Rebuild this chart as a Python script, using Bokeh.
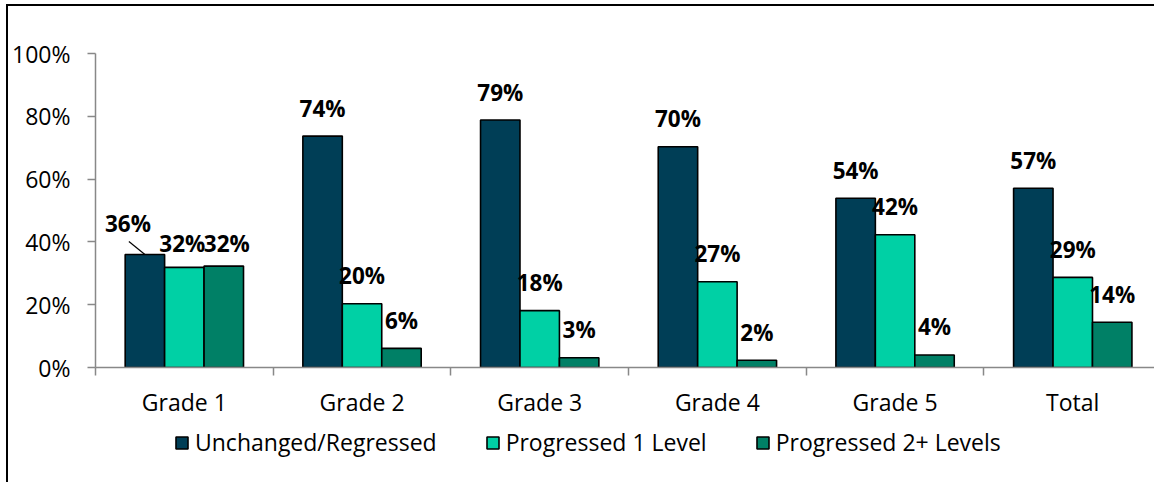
import numpy as np
from bokeh.plotting import figure
from bokeh.layouts import column
from bokeh.models import Range1d, FixedTicker, NumeralTickFormatter, Legend, LegendItem, ColumnDataSource
from bokeh.core.properties import value
from bokeh.embed import file_html
from bokeh.resources import INLINE

# ---- data ----
categories = ["Grade 1", "Grade 2", "Grade 3", "Grade 4", "Grade 5", "Total"]
series_names = ["Unchanged/Regressed", "Progressed 1 Level", "Progressed 2+ Levels"]
unchanged = [0.360, 0.737, 0.788, 0.703, 0.539, 0.571]
progressed_1 = [0.319, 0.203, 0.181, 0.273, 0.423, 0.287]
progressed_2 = [0.323, 0.061, 0.031, 0.023, 0.040, 0.144]
y_ticks = [0, 0.2, 0.4, 0.6, 0.8, 1.0]

colors = ["#003E56", "#00D0A5", "#008066"]
FONT = "Open Sans"
FS = "23px"
FS_LBL = "22.5px"

# ---- geometry ----
W, H = 1146, 420
MB_LEFT, MB_TOP, MB_BOTTOM = 87, 47, 59
X0, X1 = -0.5, 5.46
bar_w = 0.222
offsets = [-bar_w, 0.0, bar_w]

p = figure(width=W, height=H, output_backend="svg", toolbar_location=None,
           x_range=Range1d(X0, X1), y_range=Range1d(0, 1),
           min_border_left=MB_LEFT, min_border_top=MB_TOP,
           min_border_bottom=MB_BOTTOM, min_border_right=0)
p.outline_line_color = None
p.xgrid.grid_line_color = None
p.ygrid.grid_line_color = None
p.background_fill_color = "white"
p.border_fill_color = "white"

idx = np.arange(len(categories))
series = [unchanged, progressed_1, progressed_2]
for s, (vals, off, col) in enumerate(zip(series, offsets, colors)):
    src = ColumnDataSource(dict(x=idx + off, top=vals))
    p.vbar(x="x", top="top", width=bar_w, source=src, fill_color=col,
           line_color="black", line_width=1.6)

# data labels
frame_w = W - MB_LEFT
frame_h = H - MB_TOP - MB_BOTTOM
px_x = frame_w / (X1 - X0)
px_y = frame_h / 1.0
label_shift = {(0, 0): (-17, -31), (0, 1): (-2, -24), (0, 2): (3, -23)}
for s, (vals, off) in enumerate(zip(series, offsets)):
    xo, yo = [], []
    for i in range(len(categories)):
        dx, dy = label_shift.get((i, s), (0, -28))
        xo.append(dx)
        yo.append(dy)
    src = ColumnDataSource(dict(x=idx + off, y=vals,
                                t=[f"{round(v * 100)}%" for v in vals],
                                xo=xo, yo=yo))
    p.text(x="x", y="y", text="t", x_offset="xo", y_offset="yo", source=src,
           text_align="center", text_baseline="middle",
           text_font=value(FONT), text_font_style="bold",
           text_font_size=FS_LBL, text_color="black")

# leader line for the Grade 1 first label
lx = idx[0] + offsets[0]
ly = unchanged[0]
p.segment(x0=[lx - 16 / px_x], y0=[ly + 13 / px_y], x1=[lx], y1=[ly],
          line_color="black", line_width=1.2)

# axes
ax = p.xaxis[0]
ax.ticker = FixedTicker(ticks=list(idx), minor_ticks=list(idx - 0.5) + [idx[-1] + 0.5])
ax.major_label_overrides = {int(i): c for i, c in zip(idx, categories)}
ax.major_tick_in = 0
ax.major_tick_out = 0
ax.minor_tick_in = 0
ax.minor_tick_out = 8
ax.axis_line_color = "#888888"
ax.minor_tick_line_color = "#888888"
ax.axis_line_width = 1.5
ax.minor_tick_line_width = 1.5
ax.major_label_standoff = 10
ax.major_label_text_font = FONT
ax.major_label_text_font_size = FS
ax.major_label_text_color = "black"

ay = p.yaxis[0]
ay.ticker = FixedTicker(ticks=y_ticks, minor_ticks=[])
ay.formatter = NumeralTickFormatter(format="0%")
ay.major_tick_in = 0
ay.major_tick_out = 8
ay.axis_line_color = "#888888"
ay.major_tick_line_color = "#888888"
ay.axis_line_width = 1.5
ay.major_tick_line_width = 1.5
ay.major_label_standoff = 17
ay.major_label_text_font = FONT
ay.major_label_text_font_size = FS
ay.major_label_text_color = "black"

# ---- legend strip ----
LH = 56
pl = figure(width=W, height=LH, output_backend="svg", toolbar_location=None,
            x_range=Range1d(X0, X1), y_range=Range1d(0, 1),
            x_axis_location=None, y_axis_location=None,
            min_border_left=0, min_border_right=0, min_border_top=0, min_border_bottom=0)
pl.outline_line_color = None
pl.xgrid.grid_line_color = None
pl.ygrid.grid_line_color = None
pl.background_fill_color = "white"
pl.border_fill_color = "white"
key_renderers = []
for vals, off, col in zip(series, offsets, colors):
    r = pl.vbar(x=idx + off, top=vals, width=bar_w, fill_color=col,
                line_color="black", line_width=1.6)
    r.visible = False
    key_renderers.append(r)
legend = Legend(items=[LegendItem(label=n, renderers=[r]) for n, r in zip(series_names, key_renderers)],
                orientation="horizontal", location=(79, 24),
                glyph_width=15, glyph_height=15, label_standoff=6, spacing=48,
                padding=0, margin=0, border_line_color=None, background_fill_alpha=0,
                inactive_fill_alpha=0,
                label_text_font=FONT, label_text_font_size=FS, label_text_color="black",
                label_height=15)
pl.add_layout(legend, "center")

layout = column(p, pl, spacing=0)
layout.styles = {"border-left": "2px solid black", "border-top": "2px solid black",
                 "margin-left": "6px", "margin-top": "4px"}

open("out.html", "w").write(file_html(layout, INLINE))
